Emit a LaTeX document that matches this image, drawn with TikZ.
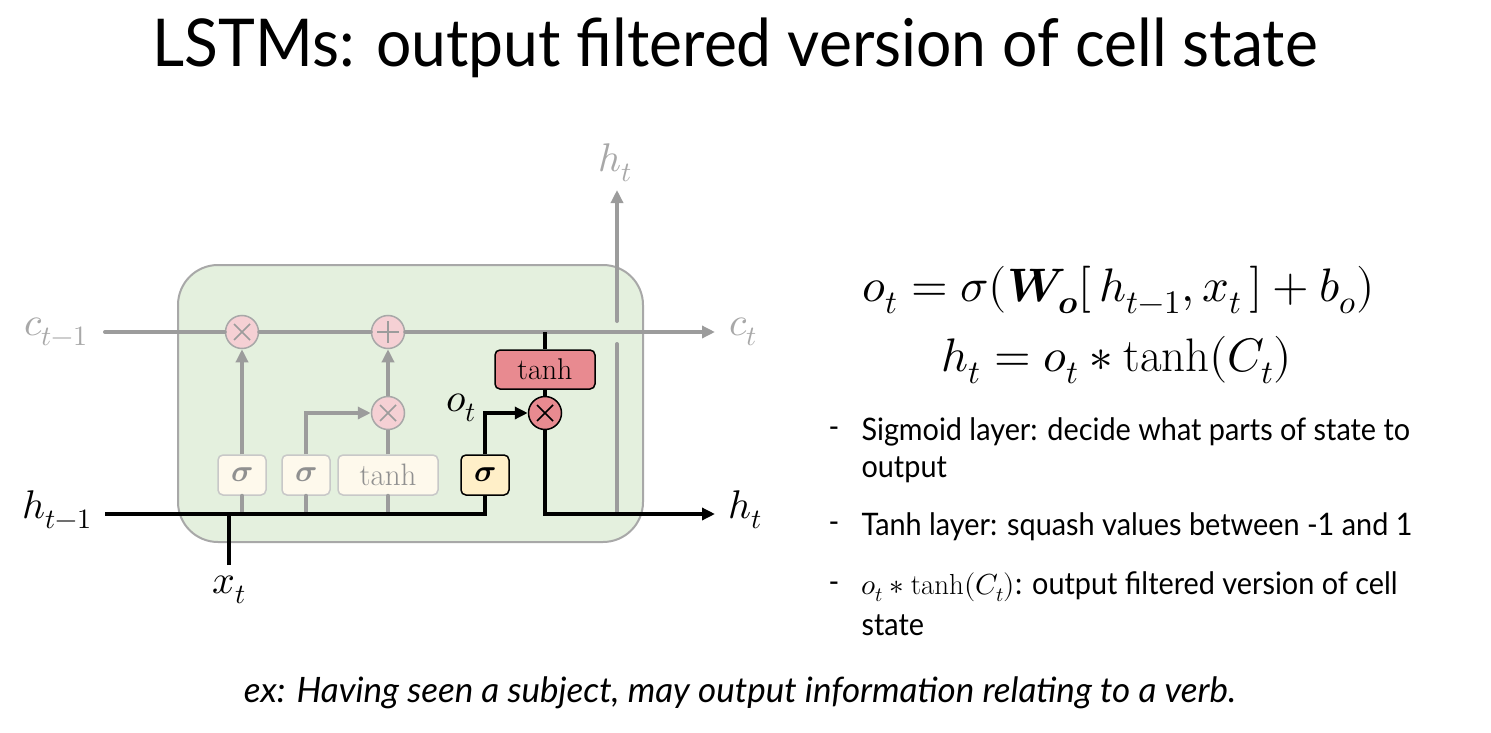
\documentclass[tikz,border=0pt]{standalone}
\usepackage{amsmath}
\usepackage{fontspec}
\usepackage{unicode-math}
\setmainfont{Latin Modern Roman}
\setmathfont{Latin Modern Math}
\newfontfamily\gill[FakeStretch=0.93]{Lato}
\newfontfamily\gillt[FakeStretch=0.945]{Lato}
\newfontfamily\gilli{Lato}
\usetikzlibrary{arrows.meta}
\definecolor{lgray}{HTML}{9C9C9C}
\definecolor{bgray}{HTML}{A8A8A8}
\definecolor{cellg}{HTML}{E4F0DE}
\definecolor{pcirc}{HTML}{F5D0D4}
\definecolor{pbox}{HTML}{FEF9EC}
\definecolor{pboxb}{HTML}{C8C8C8}
\definecolor{redf}{HTML}{E88A90}
\definecolor{yelf}{HTML}{FFEFC8}
\definecolor{ptext}{HTML}{909090}
\begin{document}
\begin{tikzpicture}[x=1pt,y=-1pt,
  gline/.style={line width=4pt,draw=lgray,line cap=round},
  bline/.style={line width=4pt,draw=black},
  tip/.style={-{Triangle[length=13pt,width=12pt]}},
  cellbox/.style={draw=bgray,line width=2pt,fill=cellg,rounded corners=40pt,minimum width=465pt,minimum height=277pt},
  xmark/.style={path picture={
     \draw[#1,line width=1.6pt] ([shift={(-8,-8)}]path picture bounding box.center) -- ([shift={(8,8)}]path picture bounding box.center);
     \draw[#1,line width=1.6pt] ([shift={(-8,8)}]path picture bounding box.center) -- ([shift={(8,-8)}]path picture bounding box.center);}},
  pmark/.style={path picture={
     \draw[#1,line width=1.6pt] ([shift={(-11,0)}]path picture bounding box.center) -- ([shift={(11,0)}]path picture bounding box.center);
     \draw[#1,line width=1.6pt] ([shift={(0,-11)}]path picture bounding box.center) -- ([shift={(0,11)}]path picture bounding box.center);}},
  pcircle/.style={circle,draw=bgray,line width=1.5pt,fill=pcirc,minimum size=33pt,inner sep=0pt},
  rcircle/.style={circle,draw=black,line width=1.5pt,fill=redf,minimum size=33pt,inner sep=0pt},
  pboxs/.style={draw=pboxb,line width=1.5pt,fill=pbox,rounded corners=5pt,minimum height=40pt,inner sep=0pt,text=ptext,font=\fontsize{31}{32}\selectfont},
  lab/.style={font=\fontsize{40}{42}\selectfont},
  bul/.style={anchor=west,font=\gill\fontsize{31}{34}\selectfont},
  eq/.style={font=\fontsize{47}{50}\selectfont}
]
\useasboundingbox (0,0) rectangle (1491,733);
% title
\node[font=\gillt\fontsize{66}{72}\selectfont] (title) at (735,48) {LSTMs: output filtered version of cell state};
% cell
\node[cellbox] (cell) at (410.5,403.5) {};
% nodes
\node[pcircle,xmark=lgray] (fx) at (242,332) {};
\node[pcircle,pmark=lgray] (plus) at (388,332) {};
\node[pcircle,xmark=lgray] (ix) at (388,413) {};
\node[pboxs,minimum width=48pt] (s1) at (242,475) {$\symbfit{\sigma}$};
\node[pboxs,minimum width=48pt] (s2) at (306,475) {$\symbfit{\sigma}$};
\node[pboxs,minimum width=100pt] (tb) at (388,475) {tanh};
\node[draw=black,line width=1.5pt,fill=yelf,rounded corners=5pt,minimum width=48pt,minimum height=40pt,inner sep=0pt,font=\fontsize{31}{32}\selectfont] (os) at (485,475) {$\symbfit{\sigma}$};
\node[draw=black,line width=1.5pt,fill=redf,rounded corners=5pt,minimum width=100pt,minimum height=39pt,inner sep=0pt,font=\fontsize{30}{31}\selectfont] (tr) at (545,369.5) {tanh};
\node[rcircle,xmark=black] (ox) at (545,413) {};
% coordinates
\coordinate (cin) at (105,332);
\coordinate (cout) at (715,332);
\coordinate (hin) at (105,514);
\coordinate (hout) at (715,514);
\coordinate (ctap) at (545,332);
\coordinate (vb) at (617,514);
\coordinate (vm1) at (617,344);
\coordinate (vm2) at (617,321);
\coordinate (vtop) at (617,190);
\coordinate (xbot) at (229,565);
% labels
\node[lab,text=bgray] (lcin) at (56,332) {$c_{t-1}$};
\node[lab,text=bgray] (lcout) at (743,332) {$c_t$};
\node[lab] (lhin) at (57,510) {$h_{t-1}$};
\node[lab] (lhout) at (745,510) {$h_t$};
\node[lab] (lxt) at (229,590) {$x_t$};
\node[lab,text=bgray] (lhtop) at (615,163) {$h_t$};
\node[lab] (lot) at (461,408) {$o_t$};
% gray connectors
\draw[gline] (cin) -- (fx);
\draw[gline] (fx) -- (plus);
\draw[gline,tip] (plus) -- (cout);
\draw[gline] (s1.south) -- (s1.south |- hin);
\draw[gline] (s2.south) -- (s2.south |- hin);
\draw[gline] (tb.south) -- (tb.south |- hin);
\draw[gline,line cap=butt,tip] (s1) -- (fx);
\draw[gline,line cap=butt,tip] (s2) |- (ix);
\draw[gline,line cap=butt] (tb) -- (ix);
\draw[gline,line cap=butt,tip] (ix) -- (plus);
\draw[gline] (vb) -- (vm1);
\draw[gline,tip] (vm2) -- (vtop);
% black connectors
\draw[bline] (hin) -| (os);
\draw[bline,tip] (os) |- (ox);
\draw[bline] (xbot) -- (xbot |- hin);
\draw[bline] (ctap) -- (tr);
\draw[bline] (tr) -- (ox);
\draw[bline,tip] (ox) |- (hout);
% equations
\node[eq] (eq1) at (1119,290) {$o_t = \sigma(\symbfit{W}_{\symbfit{o}}[\,h_{t-1}, x_t\,] + b_o)$};
\node[eq] (eq2) at (1117,360) {$h_t = o_t * \tanh(C_t)$};
% bullets
\node[bul] (d1) at (825,432) {-};
\node[bul] (b1) at (858,432) {Sigmoid layer: decide what parts of state to};
\node[bul] (b1b) at (858,470) {output};
\node[bul] (d2) at (825,527) {-};
\node[bul] (b2) at (858,527) {Tanh layer: squash values between -1 and 1};
\node[bul] (d3) at (825,587) {-};
\node[bul] (b3) at (858,587) {{\fontsize{29}{31}\selectfont$o_t * \tanh(C_t)$}: output filtered version of cell};
\node[bul] (b3b) at (858,625) {state};
% example
\node[font=\gilli\itshape\fontsize{35}{38}\selectfont] (ex) at (740,693) {ex: Having seen a subject, may output information relating to a verb.};
\end{tikzpicture}
\end{document}
